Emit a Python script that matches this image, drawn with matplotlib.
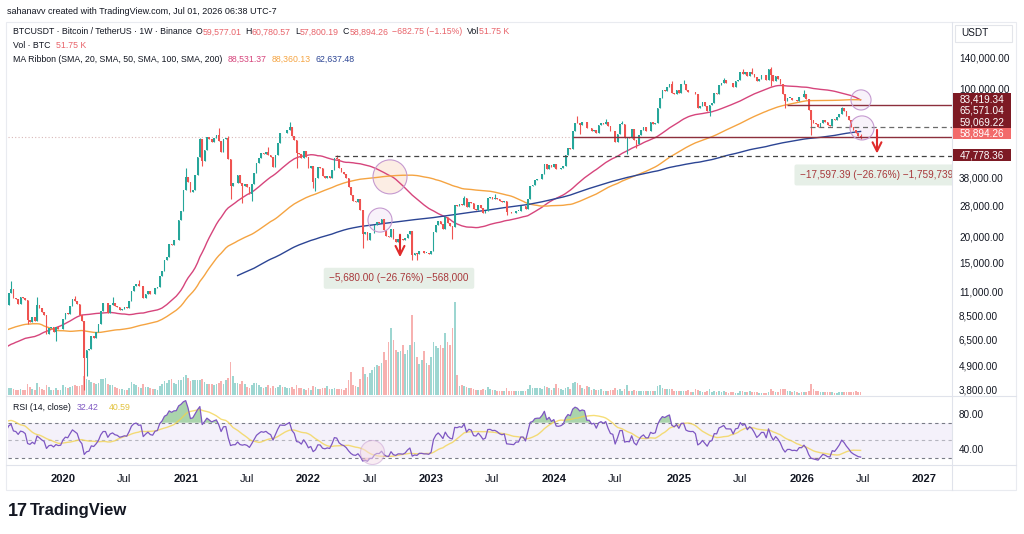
import matplotlib
matplotlib.use("Agg")
import matplotlib.dates as mdates
import matplotlib.pyplot as plt
import numpy as np
import pandas as pd
from matplotlib.lines import Line2D
from matplotlib.patches import Rectangle

plt.rcParams["font.family"] = ["Liberation Sans", "DejaVu Sans"]

# weekly closes, thousand USDT, one list per calendar year (weeks start Monday)
closes_2017 = [4.10, 4.35, 4.60, 4.20, 3.70, 3.60, 4.35, 4.60, 5.70, 6.00, 5.90, 7.30, 5.95, 8.00,
               9.30, 10.90, 15.20, 19.10, 13.80, 13.80]
closes_2018 = [16.5, 13.6, 11.6, 11.5, 8.2, 8.1, 10.4, 9.6, 11.5, 9.5, 8.2, 8.4, 6.8, 7.0, 8.3, 8.8,
               9.4, 9.6, 8.7, 8.2, 7.3, 7.7, 6.8, 6.5, 6.1, 6.4, 6.7, 6.4, 7.4, 8.2, 7.0, 6.3, 6.5,
               6.7, 7.3, 6.2, 6.5, 6.7, 6.6, 6.6, 6.3, 6.5, 6.45, 6.4, 6.35, 5.6, 3.9, 4.1, 3.6, 3.2,
               4.0, 3.7, 4.05]
closes_2019 = [3.6, 3.55, 3.53, 3.45, 3.65, 3.67, 3.8, 3.8, 3.9, 3.95, 3.98, 4.1, 5.05, 5.05, 5.3,
               5.2, 5.75, 7.0, 8.2, 8.7, 8.7, 7.65, 8.9, 10.8, 10.8, 11.5, 10.2, 10.6, 9.5, 10.8,
               11.3, 10.2, 10.1, 9.6, 10.4, 10.3, 10.0, 8.1, 7.9, 8.3, 7.95, 9.55, 9.2, 8.8, 8.5,
               6.9, 7.4, 7.5, 7.1, 7.5, 7.3, 7.35]
closes_2020 = [8.2, 8.7, 8.6, 9.35, 10.15, 9.9, 9.65, 8.55, 8.0, 5.35, 5.8, 5.9, 6.8, 6.65, 7.1, 7.7,
               8.9, 9.7, 9.7, 8.7, 9.45, 9.7, 9.4, 9.3, 9.0, 9.1, 9.25, 9.2, 9.95, 11.1, 11.7, 11.9,
               11.65, 11.7, 10.25, 10.7, 11.08, 10.75, 10.67, 11.37, 11.5, 13.03, 13.8, 15.5, 16.05,
               18.4, 18.2, 19.15, 19.25, 23.8, 26.3, 33.0]
closes_2021 = [38.2, 36.0, 32.3, 33.1, 38.9, 47.2, 57.4, 45.2, 51.0, 59.0, 57.4, 55.8, 58.2, 60.0,
               56.2, 50.1, 57.8, 58.2, 46.4, 34.7, 35.7, 35.8, 39.1, 35.6, 34.7, 35.3, 34.3, 31.8,
               35.4, 39.8, 44.6, 47.1, 49.3, 48.8, 49.9, 48.3, 47.3, 42.7, 48.2, 54.9, 61.5, 61.3,
               61.3, 63.3, 65.5, 59.7, 57.3, 49.4, 48.9, 46.7, 50.8, 47.3]
closes_2022 = [41.9, 43.1, 36.3, 37.9, 42.4, 42.2, 38.4, 37.7, 38.4, 37.8, 41.3, 46.8, 46.4, 42.2,
               40.4, 39.5, 37.6, 34.3, 31.3, 29.4, 29.0, 29.9, 26.6, 20.5, 21.0, 19.3, 20.8, 20.8,
               22.6, 23.3, 23.2, 24.3, 21.5, 20.0, 19.8, 21.8, 19.4, 18.8, 19.4, 19.4, 19.2, 19.6,
               20.6, 21.3, 16.3, 16.7, 16.45, 17.1, 17.1, 16.8, 16.8, 16.6]
closes_2023 = [17.1, 20.9, 22.7, 23.7, 22.9, 21.8, 24.6, 23.2, 22.4, 22.1, 28.0, 27.9, 28.5, 28.3,
               30.3, 27.6, 29.2, 28.9, 26.9, 26.7, 28.1, 27.1, 25.8, 26.3, 30.5, 30.6, 30.2, 30.3,
               29.9, 29.3, 29.0, 29.3, 26.1, 26.0, 25.9, 25.8, 26.5, 26.5, 27.9, 27.9, 26.9, 29.9,
               34.5, 35.0, 37.1, 37.4, 37.4, 39.5, 43.8, 41.4, 43.6, 42.3]
closes_2024 = [43.9, 41.7, 41.6, 42.0, 43.0, 48.3, 52.1, 51.7, 63.1, 68.9, 68.4, 67.2, 69.6, 69.3,
               64.9, 64.9, 63.1, 63.9, 61.5, 67.0, 68.5, 67.7, 69.6, 66.2, 63.2, 62.7, 55.8, 60.8,
               68.2, 68.2, 58.1, 58.7, 58.4, 64.2, 57.3, 54.8, 59.9, 63.6, 65.6, 62.8, 62.8, 69.0,
               68.0, 68.8, 80.4, 89.9, 98.0, 97.2, 101.2, 104.4, 95.3, 93.7, 98.3]
closes_2025 = [94.5, 104.5, 104.7, 97.7, 96.5, 96.1, 96.3, 94.2, 80.7, 82.6, 86.1, 82.3, 78.4, 83.7,
               85.1, 94.6, 94.3, 104.1, 106.4, 109.0, 105.7, 105.6, 105.5, 100.9, 108.4, 109.2,
               119.8, 117.3, 119.4, 114.2, 119.3, 117.4, 113.5, 108.2, 111.1, 115.3, 115.2, 109.6,
               123.5, 115.1, 108.6, 114.5, 110.6, 104.7, 94.2, 86.8, 90.4, 90.4, 88.2, 88.5, 87.5,
               91.0]
closes_2026 = [90.8, 93.5, 89.0, 78.6, 70.5, 68.8, 67.5, 66.0, 68.5, 71.0, 69.5, 67.0, 66.5, 71.5,
               70.5, 73.0, 76.0, 80.5, 78.0, 74.0, 70.5, 66.0, 63.5, 61.5, 59.577, 58.894]

# notable wicks (thousand USDT) keyed by week start
wick_highs = {"2019-08-05": 12.3, "2019-10-21": 10.4, "2020-02-10": 10.5, "2020-06-01": 10.4,
              "2020-08-17": 12.5, "2021-01-04": 41.9, "2021-02-15": 58.4, "2021-04-12": 64.8,
              "2021-05-10": 59.5, "2021-09-06": 52.9, "2021-11-08": 69.0, "2022-03-28": 48.2,
              "2023-04-10": 31.0, "2023-07-10": 31.8, "2024-03-11": 73.8, "2024-06-03": 72.0,
              "2024-07-22": 70.0, "2024-12-16": 108.3, "2025-01-20": 109.6, "2025-05-19": 112.0,
              "2025-07-14": 123.2, "2025-08-11": 124.5, "2025-10-06": 126.2, "2026-01-12": 97.9,
              "2026-05-04": 82.0, "2026-06-29": 60.78}
wick_lows = {"2019-09-23": 7.7, "2019-12-16": 6.4, "2020-03-09": 3.78, "2020-03-16": 4.4,
             "2021-02-22": 43.0, "2021-05-17": 30.0, "2021-06-21": 28.8, "2021-07-19": 29.3,
             "2021-11-29": 42.0, "2022-01-17": 34.0, "2022-01-24": 32.9, "2022-06-13": 17.6,
             "2022-11-07": 15.5, "2022-11-21": 15.5, "2023-03-06": 19.5, "2023-08-14": 25.2,
             "2024-03-18": 60.8, "2024-08-05": 49.0, "2024-09-02": 52.5, "2025-04-07": 74.4,
             "2025-10-06": 102.0, "2025-11-17": 80.6, "2026-02-02": 60.0, "2026-06-29": 57.8}

# weekly volume, thousand BTC, shown weeks only (from 2019-07-22)
vol_2019 = [150, 140, 150, 130, 110, 110, 120, 110, 100, 230, 170, 130, 110, 250, 170, 120, 100,
            200, 170, 110, 100, 150, 110, 110]
vol_2020 = [200, 170, 140, 170, 190, 200, 180, 190, 200, 380, 330, 300, 260, 240, 230, 250, 320,
            330, 350, 220, 200, 200, 160, 150, 130, 120, 110, 100, 150, 260, 220, 200, 160, 140,
            220, 170, 160, 140, 120, 120, 110, 180, 230, 290, 240, 300, 330, 250, 220, 300, 300, 360]
vol_2021 = [400, 340, 280, 300, 300, 300, 300, 330, 260, 230, 220, 230, 200, 230, 250, 290, 220,
            300, 340, 660, 380, 250, 240, 220, 280, 220, 170, 150, 200, 250, 240, 200, 160, 150,
            160, 200, 150, 180, 150, 170, 200, 170, 160, 150, 140, 160, 130, 200, 150, 140, 120, 110]
vol_2022 = [140, 110, 190, 170, 130, 130, 140, 150, 180, 130, 120, 140, 130, 130, 120, 110, 140,
            300, 460, 200, 180, 170, 320, 560, 420, 360, 440, 500, 560, 600, 580, 650, 860, 700,
            1060, 1340, 1100, 900, 860, 880, 1000, 820, 900, 1000, 1600, 1060, 760, 620, 700, 880,
            640, 600]
vol_2023 = [760, 1060, 980, 940, 1000, 940, 1240, 1060, 1000, 1340, 1860, 400, 180, 200, 180, 170,
            140, 150, 130, 110, 100, 100, 130, 110, 160, 120, 100, 110, 90, 80, 80, 80, 150, 90, 80,
            80, 90, 80, 80, 90, 80, 120, 200, 140, 140, 150, 140, 130, 190, 170, 140, 110]
vol_2024 = [150, 230, 140, 130, 110, 140, 170, 120, 250, 260, 240, 200, 140, 130, 190, 160, 110,
            130, 110, 110, 120, 80, 90, 90, 100, 100, 150, 110, 120, 90, 130, 200, 90, 80, 100, 90,
            90, 90, 80, 90, 80, 90, 80, 90, 180, 200, 150, 130, 120, 120, 130, 90, 80]
vol_2025 = [90, 90, 90, 90, 110, 60, 60, 130, 110, 90, 60, 70, 80, 120, 70, 80, 60, 80, 70, 80, 60,
            50, 60, 60, 50, 50, 80, 80, 60, 70, 80, 70, 60, 70, 50, 50, 50, 50, 60, 130, 90, 70, 70,
            120, 120, 130, 90, 80, 70, 80, 60, 50]
vol_2026 = [60, 70, 60, 90, 220, 120, 80, 80, 70, 70, 60, 60, 60, 60, 50, 50, 60, 60, 60, 60, 60,
            70, 70, 80, 70, 52]

price_ticks = [140000, 100000, 50000, 38000, 28000, 20000, 15000, 11000, 8500, 6500, 4900, 3800]

# right-axis price tags: price, label, colour, pixel shift (stacked like TradingView)
tag_prices = [83419.34, 65571.04, 59069.22, 58894.26, 47778.36]
tag_colors = ["#7d1a24", "#7d1a24", "#7d1a24", "#f26b6b", "#7d1a24"]
tag_shift_px = [5.8, 16.4, 14.5, 3.4, 1.1]

UP, DOWN = "#26a69a", "#ef5350"
DARK = "#131722"
RED_TXT = "#e8636a"
PINK, ORANGE, NAVY = "#d6457c", "#f5a442", "#2c4594"
RSI_COL, RSI_MA_COL = "#7e57c2", "#f3d34a"
FS_LEG = 6.3
FS_AX = 7.2

W, H = 1024, 534


def fx(px):
    return px / W


def fy(py):
    return 1 - py / H


def px_date(px):
    # TradingView time scale: first 2020 bar at x=63, ~0.337 px per day
    return mdates.date2num(pd.Timestamp("2020-01-06")) + (px - 63) / 0.3371


closes = np.array(closes_2017 + closes_2018 + closes_2019 + closes_2020 + closes_2021
                  + closes_2022 + closes_2023 + closes_2024 + closes_2025 + closes_2026) * 1000
dates = pd.date_range("2017-08-14", periods=len(closes), freq="W-MON")
df = pd.DataFrame({"close": closes}, index=dates)
df["open"] = df["close"].shift(1).fillna(df["close"])
df["sma50"] = df["close"].rolling(50).mean()
df["sma100"] = df["close"].rolling(100).mean()
df["sma200"] = df["close"].rolling(200).mean()

delta = df["close"].diff().fillna(0)
gain = delta.clip(lower=0).ewm(alpha=1 / 14, adjust=False).mean()
loss = (-delta.clip(upper=0)).ewm(alpha=1 / 14, adjust=False).mean()
df["rsi"] = 100 - 100 / (1 + gain / loss)
df["rsi_ma"] = df["rsi"].rolling(14).mean()

shown = df.loc["2019-07-22":].copy()
shown["high"] = shown[["open", "close"]].max(axis=1)
shown["low"] = shown[["open", "close"]].min(axis=1)
for d, v in wick_highs.items():
    shown.loc[d, "high"] = max(shown.loc[d, "high"], v * 1000)
for d, v in wick_lows.items():
    shown.loc[d, "low"] = min(shown.loc[d, "low"], v * 1000)
shown["volume"] = vol_2019 + vol_2020 + vol_2021 + vol_2022 + vol_2023 + vol_2024 + vol_2025 + vol_2026

xd = mdates.date2num(shown.index.to_pydatetime())
xall = mdates.date2num(df.index.to_pydatetime())
o, c = shown["open"].values, shown["close"].values
cols = np.where(c >= o, UP, DOWN)

fig = plt.figure(figsize=(W / 100, H / 100), dpi=100)
main_rect = [fx(8), fy(395), fx(952) - fx(8), fy(22) - fy(395)]
ax_vol = fig.add_axes(main_rect, label="vol")
ax = fig.add_axes(main_rect, label="price", sharex=ax_vol)
ax_rsi = fig.add_axes([fx(8), fy(465), fx(952) - fx(8), fy(397) - fy(465)], label="rsi", sharex=ax_vol)
ax.patch.set_visible(False)

x_left, x_right = px_date(8), px_date(952)

# volume
ax_vol.bar(xd, shown["volume"], width=5, color=cols, alpha=0.45, linewidth=0)
ax_vol.set_ylim(0, 373 * 20)
ax_vol.axis("off")

# candles
ax.vlines(xd, shown["low"], shown["high"], colors=cols, linewidth=0.8, zorder=3)
body = np.maximum(np.abs(c - o), c * 0.003)
ax.bar(xd, body, bottom=np.minimum(o, c), width=5, color=cols, linewidth=0, zorder=3)

# MA ribbon
ax.plot(xall, df["sma50"], color=PINK, lw=1, zorder=2)
ax.plot(xall, df["sma100"], color=ORANGE, lw=1, zorder=2)
ax.plot(xall, df["sma200"], color=NAVY, lw=1, zorder=2)

ax.set_yscale("log")
ax.set_ylim(3575, 205400)
ax.set_xlim(x_left, x_right)
ax.yaxis.tick_right()
ax.set_yticks(price_ticks)
ax.yaxis.set_minor_locator(matplotlib.ticker.NullLocator())
ax.set_yticklabels([f"{v:,.2f}" for v in price_ticks])
ax.tick_params(axis="y", length=0, pad=5, labelsize=FS_AX, labelcolor=DARK)
ax.tick_params(axis="x", which="both", length=0, labelbottom=False)
for s in ax.spines.values():
    s.set_visible(False)

# drawings
last_close = tag_prices[3]
ax.axhline(last_close, color="#d9b8b8", lw=0.8, ls=(0, (1, 2)), zorder=1)
ax.hlines(tag_prices[2], px_date(573), x_right, color="#8c2f3c", lw=1, zorder=4)
ax.hlines(tag_prices[0], px_date(787), x_right, color="#8c2f3c", lw=1, zorder=4)
ax.hlines(tag_prices[1], px_date(810), x_right, color="#6b6b6b", lw=0.9, ls=(0, (4, 3)), zorder=4)
ax.hlines(tag_prices[4], px_date(335), x_right, color="#444444", lw=0.9, ls=(0, (4, 3)), zorder=4)

ax.scatter([px_date(390)], [38200], s=600, facecolor="#fbe2d2", alpha=0.6, edgecolor="none", zorder=1)
ax.scatter([px_date(390)], [38200], s=600, facecolor="none", edgecolor="#c59ad0", lw=0.8, zorder=5)
for dpx, price, size in [(380, 23900, 300), (861, 88100, 210), (862, 65000, 300)]:
    ax.scatter([px_date(dpx)], [price], s=size, facecolor="#f1e4f4", alpha=0.45, edgecolor="none", zorder=1)
    ax.scatter([px_date(dpx)], [price], s=size, facecolor="none", edgecolor="#c59ad0", lw=0.8, zorder=5)

for dpx, p0, p1 in [(400, 21000, 15500), (877, tag_prices[1], tag_prices[4])]:
    ax.annotate("", xy=(px_date(dpx), p1), xytext=(px_date(dpx), p0),
                arrowprops=dict(arrowstyle="->", color="#e02b2b", lw=1.5, mutation_scale=16), zorder=6)

ax.text(px_date(399), 12700, "\u22125,680.00 (\u221226.76%) \u2212568,000", fontsize=7.2, color="#a8383b",
        ha="center", va="center", zorder=6,
        bbox=dict(boxstyle="round,pad=0.55,rounding_size=0.2", fc="#e6efe7", ec="none"))
ax.text(px_date(800), 39000, "\u221217,597.39 (\u221226.76%) \u22121,759,739", fontsize=7.2, color="#a8383b",
        ha="left", va="center", zorder=6, clip_on=True,
        bbox=dict(boxstyle="round,pad=0.55,rounding_size=0.2", fc="#e6efe7", ec="none"))

# RSI panel
ax_rsi.axhspan(30, 70, color=RSI_COL, alpha=0.08, lw=0)
for lvl, a in [(70, 1), (50, 0.5), (30, 1)]:
    ax_rsi.axhline(lvl, color="#787b86", lw=0.8, ls=(0, (3, 3)), alpha=a)
rsi = shown["rsi"].values
ax_rsi.fill_between(xd, rsi, 70, where=rsi > 70, interpolate=True, color="#43a047", alpha=0.45, lw=0)
ax_rsi.fill_between(xd, rsi, 30, where=rsi < 30, interpolate=True, color="#ef5350", alpha=0.35, lw=0)
ax_rsi.plot(xd, shown["rsi_ma"], color=RSI_MA_COL, lw=1, alpha=0.75)
ax_rsi.plot(xd, rsi, color=RSI_COL, lw=0.9)
ax_rsi.scatter([px_date(372)], [36.6], s=300, facecolor="#f4dde8", alpha=0.5, edgecolor="#c59ad0", lw=0.8, zorder=5)
ax_rsi.set_ylim(21.7, 99.4)
ax_rsi.set_xlim(x_left, x_right)
ax_rsi.yaxis.tick_right()
ax_rsi.set_yticks([80, 40])
ax_rsi.set_yticklabels(["80.00", "40.00"])
ax_rsi.tick_params(axis="y", length=0, pad=5, labelsize=FS_AX, labelcolor=DARK)
for s in ax_rsi.spines.values():
    s.set_visible(False)

tick_pos, tick_lab = [], []
for yr in range(2020, 2028):
    for m in (1, 7):
        d = pd.Timestamp(yr, m, 1)
        d = d + pd.Timedelta(days=(7 - d.weekday()) % 7)
        n = mdates.date2num(d)
        if n < x_right - 20:
            tick_pos.append(n)
            tick_lab.append(str(yr) if m == 1 else "Jul")
ax_rsi.set_xticks(tick_pos)
ax_rsi.set_xticklabels(tick_lab)
ax_rsi.tick_params(axis="x", length=0, pad=6.5, labelsize=8, labelcolor=DARK)
for t in ax_rsi.get_xticklabels():
    if t.get_text() != "Jul":
        t.set_fontweight("bold")

# frame lines
for (x0, y0, x1, y1) in [(6, 396, 1016, 396), (6, 465, 1016, 465), (952, 22, 952, 490)]:
    fig.add_artist(Line2D([fx(x0), fx(x1)], [fy(y0), fy(y1)], transform=fig.transFigure,
                          color="#e0e3eb", lw=0.8))
fig.add_artist(Rectangle((fx(6), fy(490)), fx(1016) - fx(6), fy(22) - fy(490), transform=fig.transFigure,
                         fill=False, ec="#e9ebf0", lw=0.8))
fig.add_artist(Rectangle((fx(955), fy(42)), fx(1012) - fx(955), fy(25) - fy(42), transform=fig.transFigure,
                         fill=False, ec="#e3e5ea", lw=0.8))
fig.text(fx(961), fy(33.5), "USDT", fontsize=FS_AX, color=DARK, va="center")

# price tags on the right scale
for price, fc, shift in zip(tag_prices, tag_colors, tag_shift_px):
    ydisp = ax.transData.transform((x_left, price))[1]
    ypx = H - ydisp - shift
    fig.add_artist(Rectangle((fx(952.7), fy(ypx + 5.85)), fx(58), 11.7 / H, transform=fig.transFigure,
                             fc=fc, ec="none", zorder=5))
    fig.text(fx(959.3), fy(ypx), f"{price:,.2f}", fontsize=FS_AX, color="white", va="center", zorder=6)

# legend text
renderer = fig.canvas.get_renderer()


def text_runs(px, py, parts, size):
    for gap, s, col in parts:
        px += gap
        t = fig.text(fx(px), fy(py), s, color=col, fontsize=size, ha="left", va="center")
        px += t.get_window_extent(renderer).width


fig.text(fx(7), fy(11), "sahanavv created with TradingView.com, Jul 01, 2026 06:38 UTC-7",
         fontsize=6.5, color=DARK, va="center")
text_runs(13, 32, [(0, "BTCUSDT \u00b7 Bitcoin / TetherUS \u00b7 1W \u00b7 Binance", DARK),
                   (4, "O", DARK), (0, "59,577.01", RED_TXT), (4, "H", DARK), (0, "60,780.57", RED_TXT),
                   (4, "L", DARK), (0, "57,800.19", RED_TXT), (4, "C", DARK), (0, "58,894.26", RED_TXT),
                   (4, "\u2212682.75 (\u22121.15%)", RED_TXT), (4, "Vol", DARK), (0, "51.75 K", RED_TXT)], FS_LEG)
text_runs(13, 46, [(0, "Vol \u00b7 BTC", DARK), (5, "51.75 K", RED_TXT)], FS_LEG)
text_runs(13, 59, [(0, "MA Ribbon (SMA, 20, SMA, 50, SMA, 100, SMA, 200)", DARK), (5, "88,531.37", PINK),
                   (5, "88,360.13", ORANGE), (5, "62,637.48", NAVY)], FS_LEG)
text_runs(13, 408, [(0, "RSI (14, close)", DARK), (6, "32.42", RSI_COL), (10, "40.59", "#e2c23e")], FS_LEG)

# watermark logo
fig.text(fx(8), fy(511), "17", fontsize=13, fontweight="bold", color=DARK, va="center")
fig.text(fx(30), fy(511), "TradingView", fontsize=12, fontweight="bold", color=DARK, va="center")

fig.savefig("out.png", dpi=100)
